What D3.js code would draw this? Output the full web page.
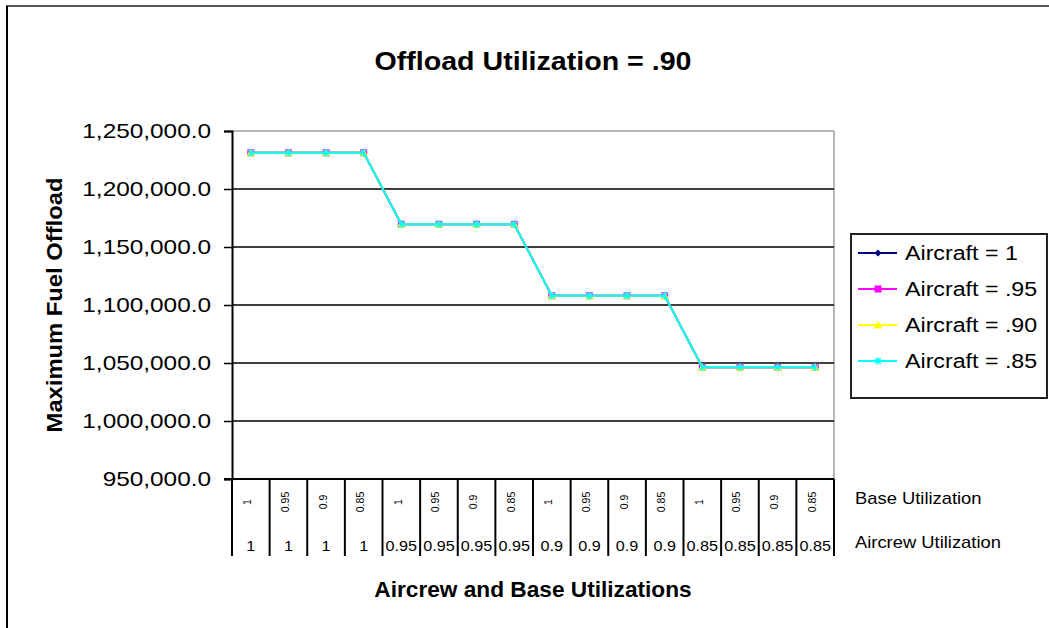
<!DOCTYPE html>
<html>
<head>
<meta charset="utf-8">
<script src="https://cdn.jsdelivr.net/npm/d3@7"></script>
<style>
  body { margin: 0; background: #fff; }
  text { font-family: Arial, "Liberation Sans", sans-serif; fill: #000; }
</style>
</head>
<body>
<div id="chart"></div>
<script>
// categories: base utilization (top row) and aircrew utilization (bottom row)
var baseUtil = ['1', '0.95', '0.9', '0.85', '1', '0.95', '0.9', '0.85', '1', '0.95', '0.9', '0.85', '1', '0.95', '0.9', '0.85'];
var crewUtil = ['1', '1', '1', '1', '0.95', '0.95', '0.95', '0.95', '0.9', '0.9', '0.9', '0.9', '0.85', '0.85', '0.85', '0.85'];

// series values (all four series coincide)
var aircraft100 = [1231200, 1231200, 1231200, 1231200, 1169600, 1169600, 1169600, 1169600, 1108000, 1108000, 1108000, 1108000, 1046400, 1046400, 1046400, 1046400];
var aircraft95 = [1231200, 1231200, 1231200, 1231200, 1169600, 1169600, 1169600, 1169600, 1108000, 1108000, 1108000, 1108000, 1046400, 1046400, 1046400, 1046400];
var aircraft90 = [1231200, 1231200, 1231200, 1231200, 1169600, 1169600, 1169600, 1169600, 1108000, 1108000, 1108000, 1108000, 1046400, 1046400, 1046400, 1046400];
var aircraft85 = [1231200, 1231200, 1231200, 1231200, 1169600, 1169600, 1169600, 1169600, 1108000, 1108000, 1108000, 1108000, 1046400, 1046400, 1046400, 1046400];

var seriesNames = ['Aircraft = 1', 'Aircraft = .95', 'Aircraft = .90', 'Aircraft = .85'];
var yTicks = [950000, 1000000, 1050000, 1100000, 1150000, 1200000, 1250000];

var width = 1049, height = 628;
var plot = { left: 232, right: 834, top: 131, bottom: 479 };

// windows-style text renders a bit wider than the metric font
function widen(sel, k) {
  sel.each(function () {
    var w = this.getComputedTextLength();
    d3.select(this).attr('textLength', w * k).attr('lengthAdjust', 'spacingAndGlyphs');
  });
}

var svg = d3.select('#chart').append('svg')
  .attr('width', width)
  .attr('height', height);

// chart frame (spreadsheet object border)
svg.append('line').attr('x1', 6).attr('x2', width).attr('y1', 6).attr('y2', 6)
  .attr('stroke', '#555').attr('stroke-width', 2);
svg.append('line').attr('x1', 7).attr('x2', 7).attr('y1', 6).attr('y2', height)
  .attr('stroke', '#000').attr('stroke-width', 2);

var x = d3.scaleBand()
  .domain(d3.range(baseUtil.length))
  .range([plot.left, plot.right]);

var y = d3.scaleLinear()
  .domain([950000, 1250000])
  .range([plot.bottom, plot.top]);

// plot area outline (light gray top/right)
svg.append('line').attr('x1', plot.left).attr('x2', plot.right).attr('y1', plot.top).attr('y2', plot.top)
  .attr('stroke', '#a0a0a0').attr('stroke-width', 1.5);
svg.append('line').attr('x1', plot.right).attr('x2', plot.right).attr('y1', plot.top).attr('y2', plot.bottom)
  .attr('stroke', '#a0a0a0').attr('stroke-width', 1.5);

// gridlines
svg.append('g').selectAll('line')
  .data(yTicks.slice(1, -1))
  .enter().append('line')
  .attr('x1', plot.left).attr('x2', plot.right)
  .attr('y1', function (d) { return y(d); })
  .attr('y2', function (d) { return y(d); })
  .attr('stroke', '#000').attr('stroke-width', 1.5);

// y axis
var fmt = d3.format(',.1f');
var yAxis = svg.append('g')
  .attr('transform', 'translate(' + plot.left + ',0)')
  .call(d3.axisLeft(y).tickValues(yTicks).tickFormat(fmt).tickSize(8).tickPadding(13));
yAxis.select('.domain').attr('stroke', '#000').attr('stroke-width', 2);
yAxis.selectAll('.tick line').attr('stroke', '#000').attr('stroke-width', 1.5);
yAxis.selectAll('.tick text')
  .attr('font-size', 21)
  .attr('font-family', null)
  .attr('fill', '#000')
  .call(widen, 1.16);

// x axis baseline
svg.append('line').attr('x1', plot.left - 8).attr('x2', plot.right).attr('y1', plot.bottom).attr('y2', plot.bottom)
  .attr('stroke', '#000').attr('stroke-width', 2);

// category separators
var sepX = d3.range(baseUtil.length + 1).map(function (i) {
  return i < baseUtil.length ? x(i) : plot.right;
});
svg.append('g').selectAll('line')
  .data(sepX)
  .enter().append('line')
  .attr('x1', function (d) { return d; })
  .attr('x2', function (d) { return d; })
  .attr('y1', plot.bottom)
  .attr('y2', 556)
  .attr('stroke', '#000').attr('stroke-width', 2);

// base utilization labels (rotated)
svg.append('g').selectAll('text')
  .data(baseUtil)
  .enter().append('text')
  .attr('transform', function (d, i) {
    return 'translate(' + (x(i) + x.bandwidth() / 2 + 0.5) + ',502) rotate(-90)';
  })
  .attr('text-anchor', 'middle')
  .style('font-size', '10.5px')
  .text(function (d) { return d; });

// aircrew utilization labels
svg.append('g').selectAll('text')
  .data(crewUtil)
  .enter().append('text')
  .attr('x', function (d, i) { return x(i) + x.bandwidth() / 2; })
  .attr('y', 551)
  .attr('text-anchor', 'middle')
  .style('font-size', '15px')
  .text(function (d) { return d; })
  .call(widen, 1.08);

svg.append('text').attr('x', 855).attr('y', 504)
  .style('font-size', '17px').text('Base Utilization').call(widen, 1.08);
svg.append('text').attr('x', 855).attr('y', 548)
  .style('font-size', '17px').text('Aircrew Utilization').call(widen, 1.08);

// titles
svg.append('text')
  .attr('x', 533).attr('y', 70)
  .attr('text-anchor', 'middle')
  .style('font-size', '26px').style('font-weight', 'bold')
  .text('Offload Utilization = .90')
  .call(widen, 1.1);

svg.append('text')
  .attr('x', 533).attr('y', 597)
  .attr('text-anchor', 'middle')
  .style('font-size', '22px').style('font-weight', 'bold')
  .text('Aircrew and Base Utilizations')
  .call(widen, 1.03);

svg.append('text')
  .attr('transform', 'translate(62,305) rotate(-90)')
  .attr('text-anchor', 'middle')
  .style('font-size', '22px').style('font-weight', 'bold')
  .text('Maximum Fuel Offload')
  .call(widen, 1.08);

// series
var series = [
  { name: seriesNames[0], values: aircraft100, color: '#000080', marker: 'diamond' },
  { name: seriesNames[1], values: aircraft95, color: '#ff00ff', marker: 'square' },
  { name: seriesNames[2], values: aircraft90, color: '#ffff00', marker: 'triangle' },
  { name: seriesNames[3], values: aircraft85, color: '#00ffff', marker: 'star' }
];

var line = d3.line()
  .x(function (d, i) { return x(i) + x.bandwidth() / 2; })
  .y(function (d) { return y(d); });

function drawMarker(g, type, color) {
  if (type === 'diamond') {
    g.append('path').attr('d', 'M0,-3.5L3.5,0L0,3.5L-3.5,0Z').attr('fill', color);
  } else if (type === 'square') {
    g.append('rect').attr('x', -3.5).attr('y', -3.5).attr('width', 7).attr('height', 7).attr('fill', color);
  } else if (type === 'triangle') {
    g.append('path').attr('d', 'M0,-4L4.5,3.5L-4.5,3.5Z').attr('fill', color);
  } else {
    g.append('path').attr('d', 'M-3,-3L3,3M-3,3L3,-3M0,-4L0,4')
      .attr('stroke', color).attr('stroke-width', 1.2).attr('fill', 'none');
  }
}

series.forEach(function (s) {
  svg.append('path')
    .datum(s.values)
    .attr('d', line)
    .attr('fill', 'none')
    .attr('stroke', s.color)
    .attr('stroke-width', 2);
  svg.append('g').selectAll('g')
    .data(s.values)
    .enter().append('g')
    .attr('transform', function (d, i) {
      return 'translate(' + (x(i) + x.bandwidth() / 2) + ',' + y(d) + ')';
    })
    .each(function () { drawMarker(d3.select(this), s.marker, s.color); });
});

// legend
var legend = svg.append('g');
legend.append('rect')
  .attr('x', 851).attr('y', 234).attr('width', 196).attr('height', 164)
  .attr('fill', '#fff').attr('stroke', '#222').attr('stroke-width', 2);

var legendY = d3.scalePoint().domain(seriesNames).range([253, 361]);
series.forEach(function (s) {
  var ly = legendY(s.name);
  legend.append('line')
    .attr('x1', 858).attr('x2', 897).attr('y1', ly).attr('y2', ly)
    .attr('stroke', s.color).attr('stroke-width', 2);
  var mg = legend.append('g').attr('transform', 'translate(878,' + ly + ')');
  drawMarker(mg, s.marker, s.color);
  legend.append('text')
    .attr('x', 905).attr('y', ly + 7)
    .style('font-size', '20px')
    .text(s.name)
    .call(widen, 1.16);
});
</script>
</body>
</html>
